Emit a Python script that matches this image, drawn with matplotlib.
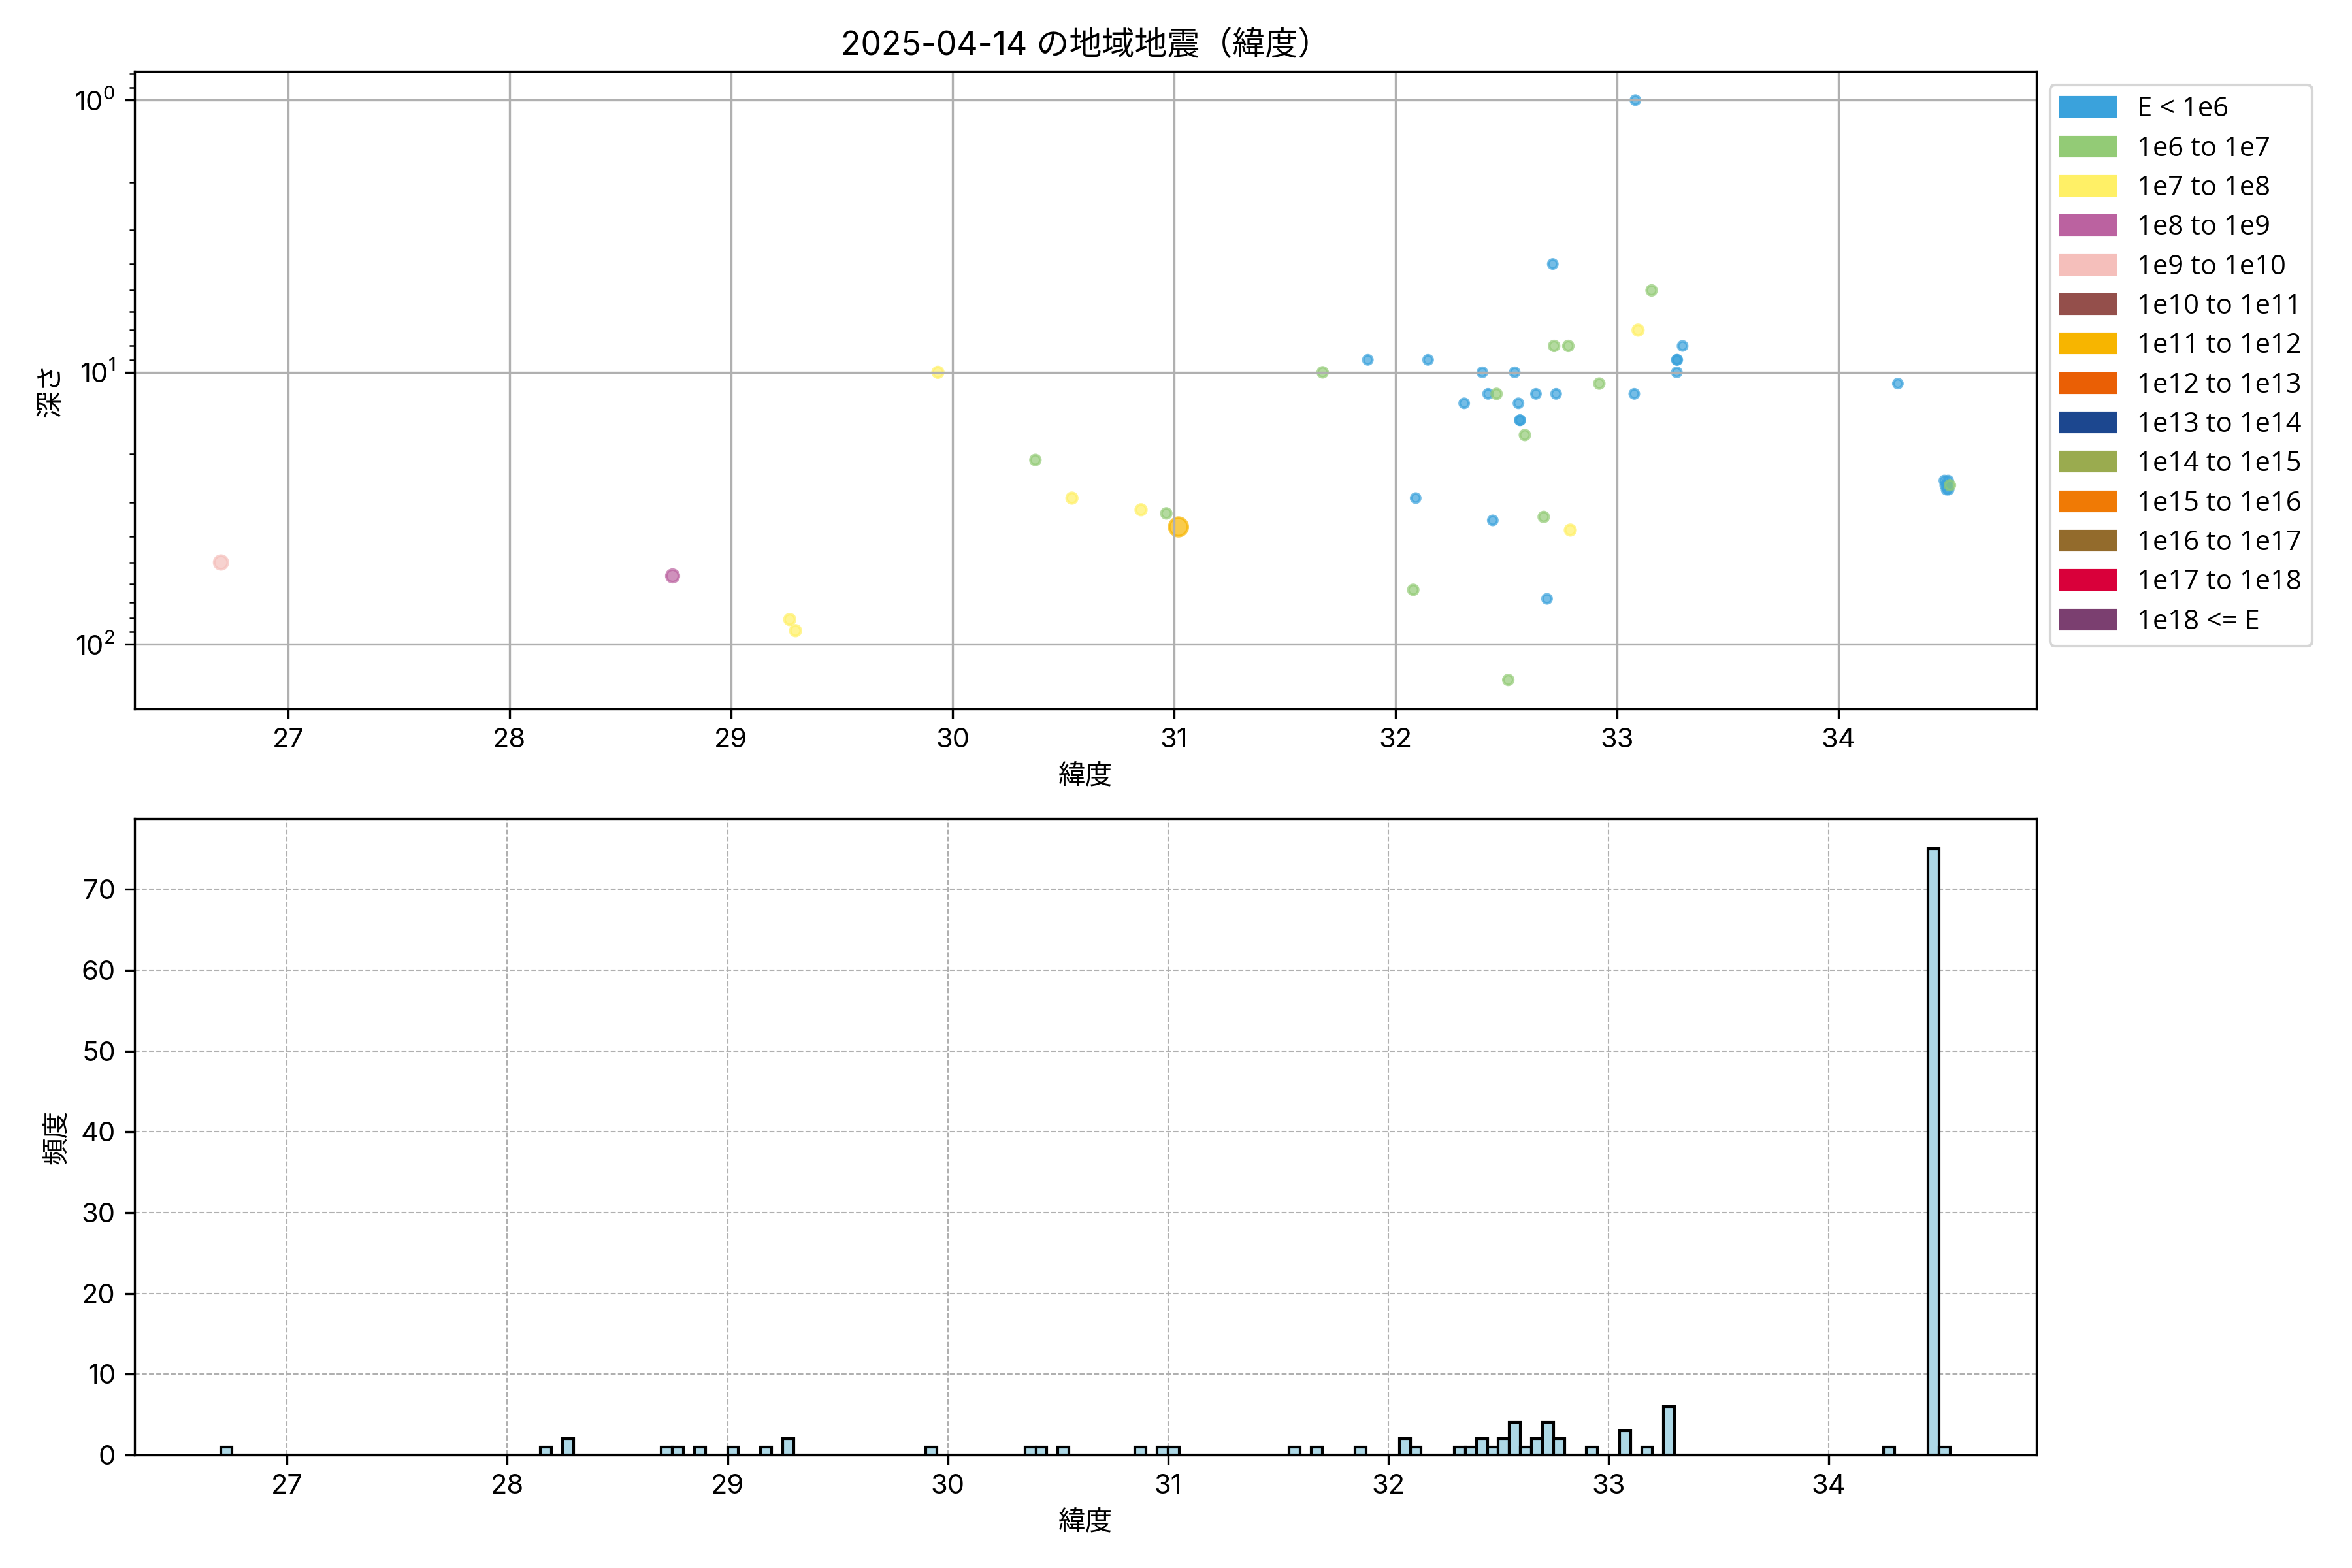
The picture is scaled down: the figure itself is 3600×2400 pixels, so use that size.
import numpy as np
import matplotlib
matplotlib.use("Agg")
import matplotlib.pyplot as plt
from matplotlib.patches import Patch

plt.rcParams['font.family'] = ['Inter', 'Noto Sans CJK JP', 'DejaVu Sans']
plt.rcParams['axes.unicode_minus'] = False

# ---------------- data ----------------
title = "2025-04-14 の地域地震（緯度）"

class_labels = ["E < 1e6", "1e6 to 1e7", "1e7 to 1e8", "1e8 to 1e9", "1e9 to 1e10",
                "1e10 to 1e11", "1e11 to 1e12", "1e12 to 1e13", "1e13 to 1e14",
                "1e14 to 1e15", "1e15 to 1e16", "1e16 to 1e17", "1e17 to 1e18", "1e18 <= E"]
class_colors = ["#3aa2dc", "#93cb76", "#fff066", "#bb62a0", "#f5bfbb", "#944f4b", "#f7b500",
                "#ea5f05", "#1c478f", "#9aab4f", "#f07a05", "#936b2c", "#d9003a", "#7b3f70"]

# scatter: latitude, depth (km), energy class index
eq_lat = [26.697, 28.736, 29.265, 29.291, 29.934, 30.374, 30.539, 30.851, 30.965, 31.020,
          31.671, 31.875, 32.147, 32.091, 32.080, 32.392, 32.538, 32.310, 32.418, 32.456,
          32.555, 32.634, 32.725, 32.561, 32.563, 32.584, 32.439, 32.669, 32.789, 32.684,
          32.710, 32.716, 32.780, 32.920, 33.078, 33.083, 33.156, 33.095, 33.296, 33.270,
          33.272, 33.270, 34.268, 32.509,
          34.478, 34.482, 34.488, 34.492, 34.495, 34.497, 34.503]
eq_depth = [50, 56, 81, 89, 10, 21, 29, 32, 33, 37,
            10, 9, 9, 29, 63, 10, 10, 13, 12, 12,
            13, 12, 12, 15, 15, 17, 35, 34, 38, 68,
            4, 8, 8, 11, 12, 1, 5, 7, 8, 9,
            9, 10, 11, 135,
            25, 26, 27, 26, 25, 27, 26]
eq_class = [4, 3, 2, 2, 2, 1, 2, 2, 1, 6,
            1, 0, 0, 0, 1, 0, 0, 0, 0, 1,
            0, 0, 0, 0, 0, 1, 0, 1, 2, 0,
            0, 1, 1, 1, 0, 0, 1, 2, 0, 0,
            0, 0, 0, 1,
            0, 0, 0, 0, 0, 0, 1]

# histogram: left edge of non-empty 0.05-degree bins and their counts
hist_bin_left = [26.70, 28.15, 28.25, 28.70, 28.75, 28.85, 29.00, 29.15, 29.25,
                 29.90, 30.35, 30.40, 30.50, 30.85, 30.95, 31.00,
                 31.55, 31.65, 31.85, 32.05, 32.10, 32.30, 32.35, 32.40, 32.45,
                 32.50, 32.55, 32.60, 32.65, 32.70, 32.75, 32.90,
                 33.05, 33.15, 33.25, 34.25, 34.45, 34.50]
hist_counts = [1, 1, 2, 1, 1, 1, 1, 1, 2,
               1, 1, 1, 1, 1, 1, 1,
               1, 1, 1, 2, 1, 1, 1, 2, 1,
               2, 4, 1, 2, 4, 2, 1,
               3, 1, 6, 1, 75, 1]
bin_width = 0.05
hist_start, hist_stop = 26.70, 34.55

# ---------------- style ----------------
class_sizes = [11, 13, 15, 21, 25, 30, 46, 52, 58, 64, 70, 76, 82, 90]

fig = plt.figure(figsize=(12, 8), dpi=300)
ax1 = fig.add_axes([0.0572, 0.5479, 0.8086, 0.4067])
ax2 = fig.add_axes([0.0572, 0.0721, 0.8086, 0.4058])

# top scatter
colors = [class_colors[c] for c in eq_class]
sizes = [class_sizes[c] for c in eq_class]
ax1.scatter(eq_lat, eq_depth, c=colors, s=sizes, alpha=0.7)
ax1.set_yscale('log')
ax1.invert_yaxis()
ax1.grid(True, color='#b0b0b0', linewidth=0.8)
ax1.set_xlabel("緯度")
ax1.set_ylabel("深さ")
ax1.set_title(title, fontsize=12)
handles = [Patch(color=col, label=lab) for col, lab in zip(class_colors, class_labels)]
ax1.legend(handles=handles, loc='upper left', bbox_to_anchor=(1.0, 1.0), labelspacing=0.44,
           prop={'family': ['Open Sans', 'DejaVu Sans'], 'size': 10})

# bottom histogram
edges = np.arange(hist_start, hist_stop + bin_width / 2, bin_width)
centers = np.array(hist_bin_left) + bin_width / 2
ax2.hist(centers, bins=edges, weights=hist_counts, color='lightblue', edgecolor='black', linewidth=1.0)
ax2.grid(True, linestyle='--', linewidth=0.5, color='#b0b0b0')
ax2.set_axisbelow(True)
ax2.set_xlabel("緯度")
ax2.set_ylabel("頻度")

fig.savefig("out.png", dpi=300)
